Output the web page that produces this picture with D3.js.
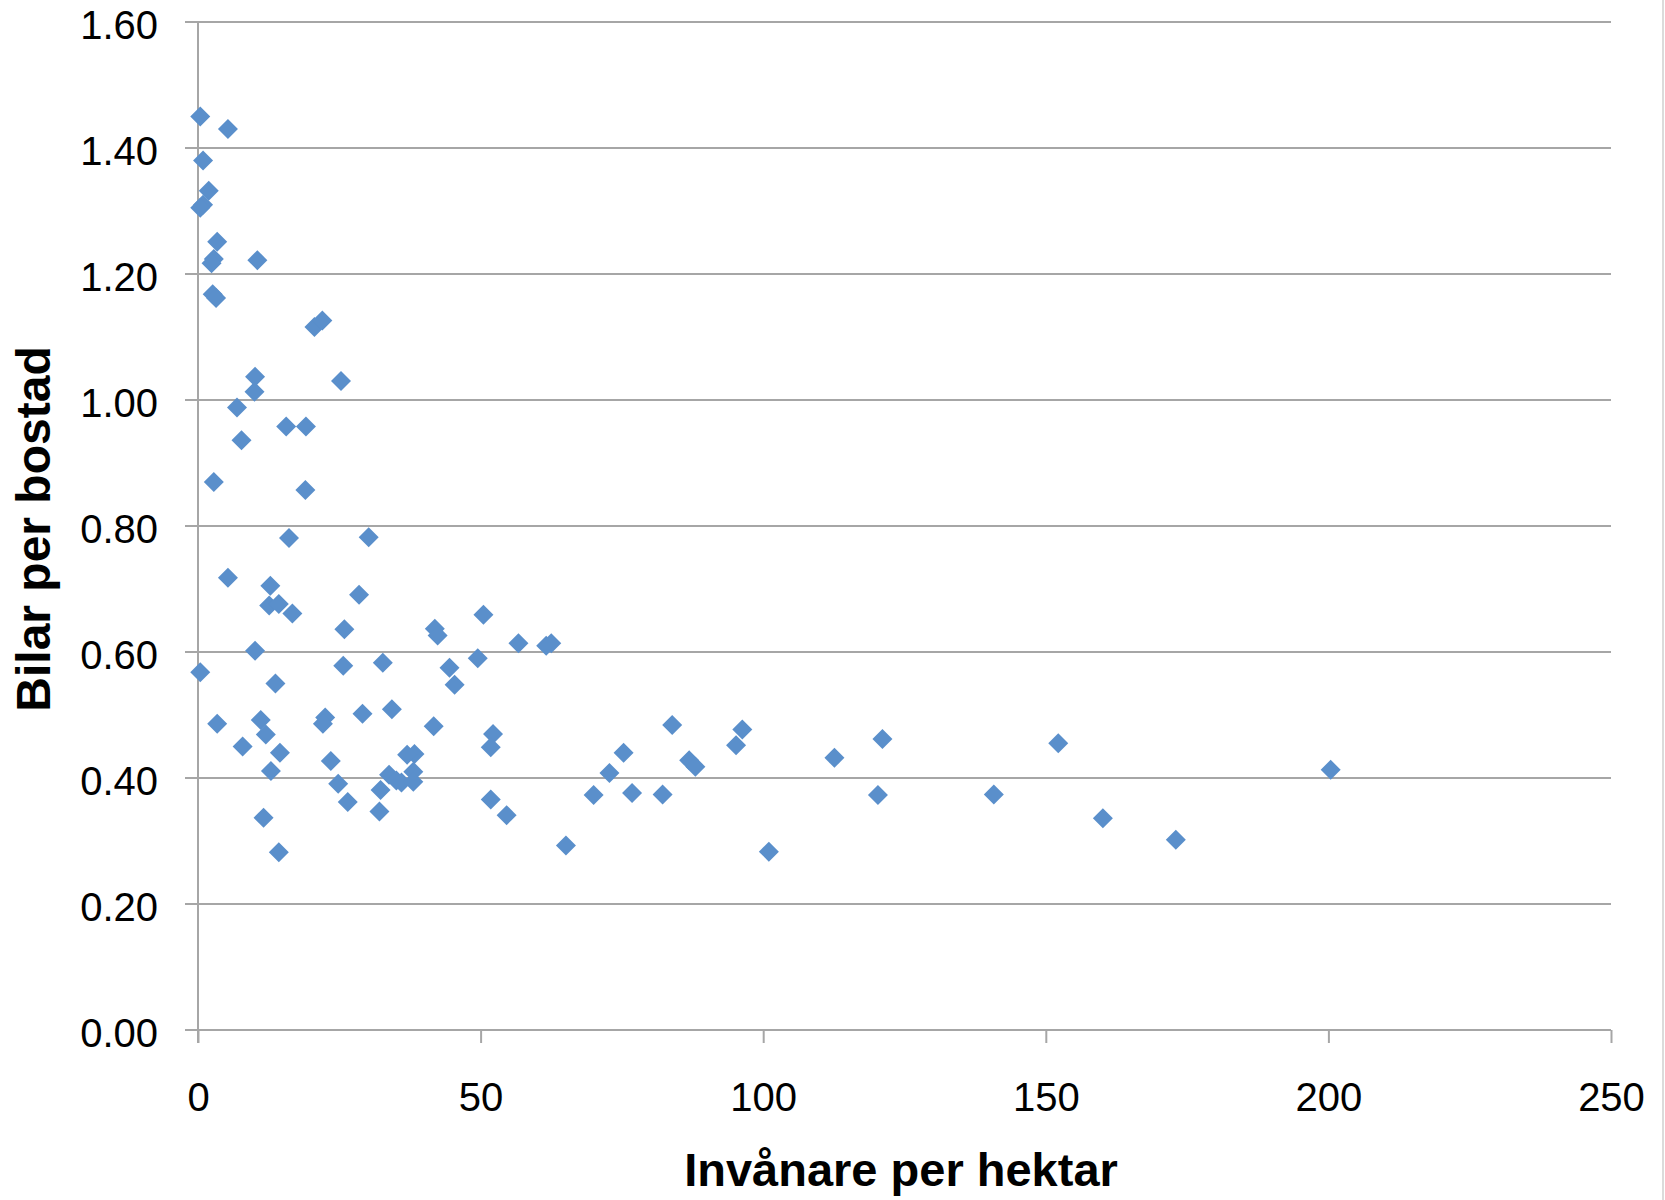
<!DOCTYPE html>
<html>
<head>
<meta charset="utf-8">
<script src="https://cdn.jsdelivr.net/npm/d3@7"></script>
<style>
  body { margin: 0; background: #fff; }
  text { font-family: "Liberation Sans", Arial, sans-serif; }
</style>
</head>
<body>
<div id="chart"></div>
<script>
// inhabitants per hectare (x) and cars per dwelling (y)
var density = [0.4, 5.3, 0.9, 1.9, 0.9, 0.4, 3.4, 2.8, 2.4, 10.5,
  2.6, 3.2, 20.6, 22.0, 10.1, 10.0, 25.3, 6.9, 15.6, 19.1,
  7.7, 2.8, 19.0, 16.1, 30.2, 5.3, 12.8, 28.5, 12.6, 14.3,
  16.7, 50.5, 25.9, 41.9, 42.4, 56.7, 61.6, 62.5, 10.1, 49.5,
  32.7, 25.7, 44.5, 45.4, 0.4, 13.7, 34.3, 29.1, 22.5, 22.1,
  11.1, 3.4, 83.9, 41.7, 96.3, 52.2, 51.8, 12.0, 121.1, 152.2,
  95.2, 7.9, 75.3, 14.5, 38.3, 37.0, 112.6, 23.5, 86.9, 88.0,
  200.4, 12.9, 72.8, 33.8, 35.1, 36.0, 38.1, 38.1, 24.8, 32.3,
  70.0, 76.8, 82.2, 120.3, 140.8, 51.8, 26.5, 32.1, 54.6, 11.6,
  160.1, 173.0, 65.1, 14.3, 101.0];

var carsPerDwelling = [1.45, 1.43, 1.38, 1.332, 1.31, 1.305, 1.251, 1.224, 1.217, 1.222,
  1.168, 1.162, 1.116, 1.126, 1.037, 1.013, 1.03, 0.988, 0.958, 0.958,
  0.936, 0.87, 0.857, 0.781, 0.782, 0.718, 0.705, 0.691, 0.674, 0.676,
  0.661, 0.659, 0.636, 0.637, 0.626, 0.614, 0.61, 0.614, 0.602, 0.59,
  0.583, 0.578, 0.575, 0.548, 0.568, 0.55, 0.509, 0.502, 0.496, 0.486,
  0.492, 0.486, 0.484, 0.482, 0.477, 0.47, 0.449, 0.469, 0.462, 0.455,
  0.452, 0.45, 0.44, 0.44, 0.438, 0.437, 0.432, 0.427, 0.428, 0.418,
  0.413, 0.411, 0.408, 0.405, 0.396, 0.393, 0.41, 0.394, 0.391, 0.381,
  0.373, 0.376, 0.374, 0.373, 0.374, 0.366, 0.362, 0.347, 0.341, 0.337,
  0.336, 0.302, 0.293, 0.282, 0.283];

var xTicks = [0, 50, 100, 150, 200, 250];
var yTicks = [0, 0.2, 0.4, 0.6, 0.8, 1.0, 1.2, 1.4, 1.6];

var xTitle = "Invånare per hektar";
var yTitle = "Bilar per bostad";

// dimensions
var W = 1665, H = 1200;
var margin = {top: 22, right: 54, bottom: 170, left: 198},
    width = W - margin.left - margin.right,
    height = H - margin.top - margin.bottom;

var gridColor = "#a6a6a6";

var svg = d3.select("#chart").append("svg")
    .attr("width", W)
    .attr("height", H);

// thin frame line at the right edge
svg.append("line")
    .attr("x1", W - 2).attr("x2", W - 2)
    .attr("y1", 0).attr("y2", H)
    .attr("stroke", "#cfcfcf").attr("stroke-width", 1.5);

var g = svg.append("g")
    .attr("transform", "translate(" + margin.left + "," + margin.top + ")");

var x = d3.scaleLinear().domain([0, 250]).range([0, width]);
var y = d3.scaleLinear().domain([0, 1.6]).range([height, 0]);

// horizontal gridlines (stick out 13px to the left like ticks)
g.selectAll(".grid")
    .data(yTicks)
    .enter().append("line")
    .attr("class", "grid")
    .attr("x1", -13).attr("x2", width)
    .attr("y1", function(d) { return y(d); })
    .attr("y2", function(d) { return y(d); })
    .attr("stroke", gridColor).attr("stroke-width", 2);

// vertical axis line
g.append("line")
    .attr("x1", 0).attr("x2", 0)
    .attr("y1", 0).attr("y2", height + 13)
    .attr("stroke", gridColor).attr("stroke-width", 2);

// y axis labels
var yAxis = g.append("g")
    .call(d3.axisLeft(y).tickValues(yTicks).tickFormat(d3.format(".2f"))
        .tickSize(13).tickPadding(27));
yAxis.select(".domain").remove();
yAxis.selectAll("line").remove();
yAxis.selectAll("text")
    .attr("dy", "0.42em")
    .style("font-size", "40px")
    .style("font-family", "'Liberation Sans', Arial, sans-serif")
    .attr("fill", "#000");

// x axis
var xAxis = g.append("g")
    .attr("transform", "translate(0," + height + ")")
    .call(d3.axisBottom(x).tickValues(xTicks).tickSize(13).tickPadding(40));
xAxis.select(".domain").remove();
xAxis.selectAll("line")
    .attr("stroke", gridColor).attr("stroke-width", 2);
xAxis.selectAll("text")
    .style("font-size", "40px")
    .style("font-family", "'Liberation Sans', Arial, sans-serif")
    .attr("fill", "#000");

// points
var data = density.map(function(d, i) { return {x: d, y: carsPerDwelling[i]}; });
var diamond = d3.symbol().type(d3.symbolSquare).size(200);

g.selectAll(".pt")
    .data(data)
    .enter().append("path")
    .attr("class", "pt")
    .attr("d", diamond)
    .attr("transform", function(d) {
        return "translate(" + x(d.x) + "," + y(d.y) + ") rotate(45)"; })
    .attr("fill", "#5a8fcb");

// axis titles
svg.append("text")
    .attr("x", 901).attr("y", 1186)
    .attr("text-anchor", "middle")
    .style("font-size", "47px").style("font-weight", "bold")
    .text(xTitle);

svg.append("text")
    .attr("transform", "translate(50,529) rotate(-90)")
    .attr("text-anchor", "middle")
    .style("font-size", "48px").style("font-weight", "bold")
    .text(yTitle);
</script>
</body>
</html>
